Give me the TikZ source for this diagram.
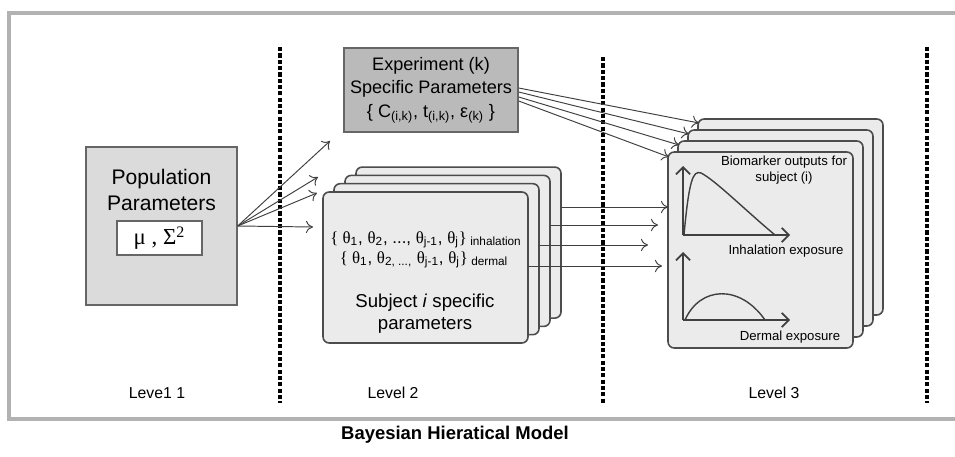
\documentclass[tikz,border=0pt]{standalone}
\usepackage{fontspec}
\setmainfont{Liberation Sans}
\newfontfamily\grk{Liberation Serif}
\usetikzlibrary{arrows.meta,calc}
\definecolor{framegray}{gray}{0.7}
\tikzset{
  card/.style={draw=black!70, fill=black!8, line width=0.9pt, rounded corners=3.5pt},
  levelsep/.style={dash pattern=on 2.4pt off 1.2pt, line width=2pt},
  link/.style={draw=black!75, line width=0.55pt, -{To[length=4pt,width=7pt]}},
  axis/.style={draw=black!75, line width=1pt, -{Straight Barb[length=4pt,width=8pt]}},
}

\begin{document}
\begin{tikzpicture}[x=0.02cm,y=-0.02cm]
    \useasboundingbox (0,0) rectangle (955,456);
    \draw [framegray, line width=2pt] (955,13) -- (9,13) -- (9,419) -- (955,419);
    \foreach \x/\t in {280/47,603/57,927/47} {
        \draw [levelsep] (\x,\t) -- (\x,403);
    }

    % level 1
    \node [draw=black!60, fill=black!14, line width=0.8pt, minimum width=3.02cm, minimum height=3.16cm, inner sep=0] (pop) at (161.5,226) {};
    \node [font=\fontsize{12}{14.8}\selectfont, align=center] (poptxt) at (161.5,190) {Population\\Parameters};
    \node [draw=black!60, fill=white, line width=0.8pt, minimum width=1.7cm, minimum height=0.68cm, inner sep=0, font=\grk\fontsize{13}{15}\selectfont] (musig) at (159.5,238) {μ , Σ\textsuperscript{2}};

    % experiment
    \node [draw=black!60, fill=black!27, line width=0.8pt, minimum width=3.48cm, minimum height=1.68cm, inner sep=0, align=center, font=\fontsize{10.3}{13.4}\selectfont] (exp) at (431,90)
        {Experiment (k)\\Specific Parameters\\\{ C\textsubscript{(i,k)}, t\textsubscript{(i,k)}, ε\textsubscript{(k)} \}};

    % level 2 stack
    \foreach \k in {3,2,1} {
        \draw [card] ({323+\k*11},{192-\k*8.3}) rectangle ++(205,151);
    }
    \node [card, minimum width=4.1cm, minimum height=3.02cm, inner sep=0] (subj) at (425.5,267.5) {};
    \node [font=\fontsize{9.6}{10}\selectfont] (inh) at (426,240) {{\grk\{ θ}\textsubscript{1}, {\grk θ}\textsubscript{2}, ..., {\grk θ}\textsubscript{j-1}, {\grk θ}\textsubscript{j}{\grk\}}\textsubscript{ inhalation}};
    \node [font=\fontsize{9.6}{10}\selectfont] (derm) at (424,260) {{\grk\{ θ}\textsubscript{1}, {\grk θ}\textsubscript{2, ...,} {\grk θ}\textsubscript{j-1}, {\grk θ}\textsubscript{j}{\grk\}}\textsubscript{ dermal}};
    \node [font=\fontsize{10.6}{12.6}\selectfont, align=center] (subjtxt) at (425,314) {Subject \textit{i} specific\\parameters};

    % level 3 stack
    \foreach \k in {3,2,1} {
        \draw [card] ({668+\k*10},{152-\k*11}) rectangle ++(185,196);
        \coordinate (c\k) at ({669+\k*10},{156-\k*11});
    }
    \node [card, minimum width=3.7cm, minimum height=3.92cm, inner sep=0] (bio) at (760.5,250) {};
    \coordinate (c0) at (669,157);
    \node [font=\fontsize{7.5}{9}\selectfont, align=center] (biotxt) at (784,170) {Biomarker outputs for\\subject (i)};
    \draw [axis] (683,235) -- (683,166);
    \draw [axis] (683,235) -- (790,235);
    \draw [black!75, line width=0.8pt] (684,235) .. controls (689,180) and (693,170) .. (701,173) .. controls (715,180) and (745,210) .. (775,235);
    \node [font=\fontsize{7.5}{9}\selectfont] (inhtxt) at (786,251) {Inhalation exposure};
    \draw [axis] (683,320) -- (683,252);
    \draw [axis] (683,320) -- (790,320);
    \draw [black!75, line width=0.8pt] (685,320) .. controls (700,286) and (740,284) .. (765,320);
    \node [font=\fontsize{7.5}{9}\selectfont] (dermtxt) at (790,337) {Dermal exposure};

    % connectors
    \foreach \i/\ex/\ey in {1/330/141,2/318/177,3/317/193,4/313/227} {
        \coordinate (p\i) at (\ex,\ey);
        \draw [link] (pop.east) -- (p\i);
    }
    \foreach \k/\dy in {3/-2,2/2,1/7,0/11} {
        \draw [link] ($(exp.east)+(0,\dy)$) -- (c\k);
    }
    \foreach \i/\sx/\sy/\ex in {1/561/207/668,2/550/225/658,3/539/245/648,4/528/266/662} {
        \coordinate (s\i) at (\sx,\sy);
        \coordinate (e\i) at (\ex,\sy);
        \draw [link] (s\i) -- (e\i);
    }

    % labels
    \node [font=\fontsize{9}{10}\selectfont] (lev1) at (157,393) {Leve1 1};
    \node [font=\fontsize{9}{10}\selectfont] (lev2) at (393,393) {Level 2};
    \node [font=\fontsize{9}{10}\selectfont] (lev3) at (774,393) {Level 3};
    \node [font=\bfseries\fontsize{10.5}{12}\selectfont] (title) at (455,435) {Bayesian Hieratical Model};
\end{tikzpicture}
\end{document}
